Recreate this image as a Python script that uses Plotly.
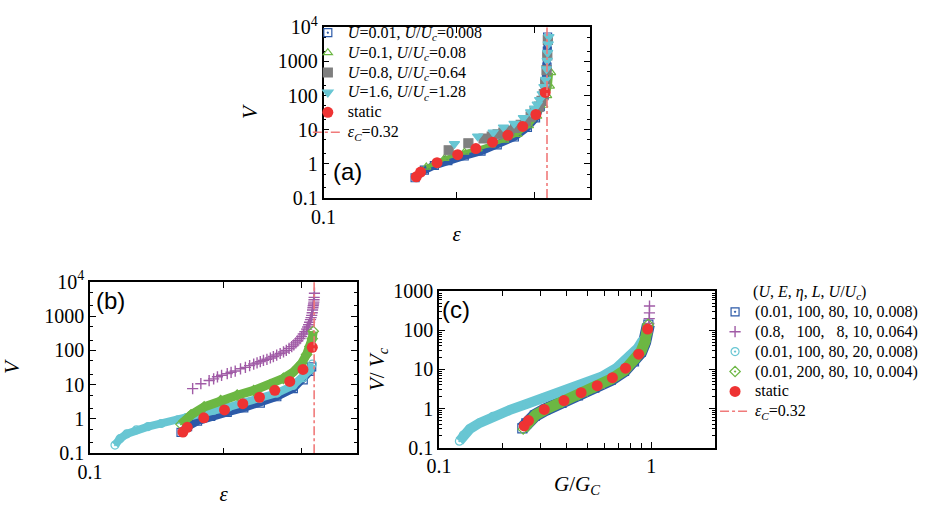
import plotly.graph_objects as go

# ---------------- data: panel (a) ----------------
a_eps_u001 = [0.161, 0.169, 0.178, 0.191, 0.208, 0.227, 0.247, 0.270, 0.289, 0.3015, 0.309, 0.315, 0.3176, 0.320, 0.3205, 0.321]
a_V_u001 = [0.39, 0.65, 0.89, 1.23, 1.69, 2.34, 3.6, 6.1, 11.7, 22, 47, 100, 234, 685, 2000, 5200]

a_eps_u01 = [0.1707, 0.1782, 0.1877, 0.1976, 0.2082, 0.2230, 0.2389, 0.2560, 0.2743, 0.2913, 0.3042, 0.3139, 0.3203, 0.3249, 0.327]
a_V_u01 = [0.80, 0.99, 1.43, 1.77, 2.19, 2.72, 3.59, 4.96, 7.3, 13, 24.7, 52, 100, 189, 470]

a_eps_u08 = [0.1918, 0.2125, 0.2300, 0.240, 0.2474, 0.255, 0.2628, 0.271, 0.2791, 0.2865, 0.2939, 0.300, 0.3069, 0.311, 0.3148, 0.317, 0.3192, 0.3205, 0.3214]
a_V_u08 = [2.49, 3.99, 5.5, 6.3, 7.3, 8.2, 9.4, 11.2, 13.9, 18, 24, 33, 47, 70, 111, 230, 553, 1500, 4300]

a_eps_u16 = [0.1976, 0.2230, 0.2418, 0.2551, 0.2696, 0.2830, 0.2939, 0.300, 0.3042, 0.308, 0.3121, 0.315, 0.3176, 0.319, 0.3203, 0.321, 0.322, 0.3232]
a_V_u16 = [3.83, 6.4, 8.3, 11.7, 15.1, 22, 32.7, 42, 55, 75, 111, 180, 291, 600, 1050, 1800, 3200, 5250]

static_eps = [0.162, 0.1657, 0.1805, 0.201, 0.221, 0.241, 0.261, 0.282, 0.302, 0.317]
static_V = [0.415, 0.57, 1.08, 1.84, 2.8, 4.3, 6.85, 12.4, 27.8, 123]

eps_c = 0.32
eps_line_V = [0.1, 10000]

# ---------------- data: panel (b) ----------------
b_eps_blue = [0.1604, 0.166, 0.1748, 0.1872, 0.2039, 0.2222, 0.2421, 0.2637, 0.2873, 0.3024, 0.3131, 0.316]
b_V_blue = [0.41, 0.60, 0.86, 1.19, 1.56, 2.11, 2.9, 4.45, 7.7, 13.8, 24.5, 33]

b_eps_purple = [0.1704, 0.1778, 0.1856, 0.190, 0.1938, 0.198, 0.2039, 0.208, 0.2125, 0.2184, 0.224, 0.229, 0.2339, 0.238, 0.242, 0.246, 0.2505, 0.255, 0.259, 0.2635, 0.2683, 0.273, 0.277, 0.281, 0.2849, 0.288, 0.291, 0.294, 0.2973, 0.300, 0.3025, 0.305, 0.3077, 0.3095, 0.311, 0.3125, 0.314, 0.315, 0.316, 0.3168, 0.3174, 0.318, 0.3185, 0.319, 0.3195, 0.3198, 0.320, 0.3205]
b_V_purple = [7.7, 10.7, 13.2, 14.8, 17, 18.8, 21, 23, 25, 29, 32, 36, 40, 43, 47, 51, 55, 60, 66, 73, 81, 90, 100, 114, 129, 145, 165, 190, 220, 255, 300, 350, 417, 480, 560, 660, 790, 900, 1050, 1250, 1500, 1750, 2000, 2250, 2550, 3000, 3500, 4640]

b_eps_cyan = [0.1139, 0.1169, 0.121, 0.1273, 0.1352, 0.1448, 0.1578, 0.165, 0.180, 0.190, 0.205, 0.222, 0.242, 0.264, 0.287, 0.302, 0.313, 0.317]
b_V_cyan = [0.174, 0.267, 0.367, 0.484, 0.60, 0.74, 0.95, 1.1, 1.4, 1.8, 2.2, 3.0, 4.0, 5.7, 9.5, 16, 27, 40]

b_eps_green = [0.1604, 0.169, 0.1809, 0.1971, 0.2147, 0.2339, 0.2548, 0.2729, 0.2873, 0.2999, 0.3077, 0.3131, 0.3169, 0.3185]
b_V_green = [0.70, 1.32, 2.25, 3.44, 4.95, 6.8, 10, 15.3, 23.4, 41.7, 76, 129, 220, 360]

# ---------------- data: panel (c) ----------------
c_G_blue = [0.247, 0.258, 0.283, 0.316, 0.378, 0.452, 0.540, 0.646, 0.745, 0.830, 0.893, 0.932, 0.955, 0.97]
c_V_blue = [0.31, 0.42, 0.66, 0.92, 1.40, 2.15, 3.4, 5.5, 9.2, 16, 28, 50, 80, 140]

c_G_purple = [0.26, 0.32, 0.40, 0.50, 0.60, 0.70, 0.80, 0.88, 0.93, 0.96, 0.975, 0.979, 0.981, 0.982]
c_V_purple = [0.45, 0.95, 1.6, 2.8, 4.4, 7, 12.5, 24, 45, 90, 150, 200, 280, 420]

c_G_cyan = [0.1248, 0.1302, 0.1398, 0.1557, 0.1796, 0.2147, 0.2566, 0.3068, 0.380, 0.471, 0.583, 0.685, 0.790, 0.864, 0.912]
c_V_cyan = [0.146, 0.21, 0.30, 0.43, 0.63, 0.91, 1.28, 1.82, 2.7, 4.07, 6.5, 10.8, 20, 35, 56]

c_G_green = [0.2494, 0.2612, 0.2856, 0.318, 0.380, 0.4544, 0.543, 0.649, 0.749, 0.834, 0.896, 0.934, 0.955, 0.968]
c_V_green = [0.30, 0.43, 0.69, 0.95, 1.46, 2.24, 3.57, 5.7, 9.5, 16.6, 29, 51, 81, 143]

c_G_static = [0.2521, 0.2641, 0.3134, 0.3882, 0.4675, 0.5568, 0.6564, 0.757, 0.873, 0.962]
c_V_static = [0.357, 0.49, 0.946, 1.6, 2.55, 3.85, 6.15, 10.8, 24.5, 108]

# ---------------- labels ----------------
legend_a_names = [
    "<i>U</i>=0.01, <i>U</i>/<i>U<sub>c</sub></i>=0.008",
    "<i>U</i>=0.1, <i>U</i>/<i>U<sub>c</sub></i>=0.08",
    "<i>U</i>=0.8, <i>U</i>/<i>U<sub>c</sub></i>=0.64",
    "<i>U</i>=1.6, <i>U</i>/<i>U<sub>c</sub></i>=1.28",
]
legend_b_names = [
    "(0.01, 100, 80, 10, 0.008)",
    "(0.8,\u00a0\u00a0 100,\u00a0\u00a0 8, 10, 0.064)",
    "(0.01, 100, 80, 20, 0.008)",
    "(0.01, 200, 80, 10, 0.004)",
]
static_name = "static"
epsc_name = "<i>ε<sub>C</sub></i>=0.32"
legend_b_title = "\u00a0" * 9 + "(<i>U</i>, <i>E</i>, <i>η</i>, <i>L</i>, <i>U</i>/<i>U<sub>c</sub></i>)"

BLUE = "#2c5aa8"
GREEN = "#6cb743"
GRAY = "#7f7f7f"
CYAN = "#68c6d3"
RED = "#ee3333"
PURPLE = "#a05ba6"
PINK = "#f07a7a"
SERIF = "Liberation Serif"
SANS = "Liberation Sans"


def big(s):
    # legend text drawn a little larger than the legend's nominal font (keeps rows compact)
    return '<span style="font-size:16px">' + s + "</span>"


fig = go.Figure()


def band(x, y, xa, ya, color, symbol, size, lw, name, legend, show, msym_line=1.2, line=True):
    marker = dict(symbol=symbol, size=size, color=color, line=dict(color=color, width=msym_line))
    if line:
        # dense band drawn as a thick line under the markers
        fig.add_trace(go.Scatter(x=x, y=y, mode="lines", xaxis=xa, yaxis=ya,
                                 line=dict(color=color, width=lw), showlegend=False,
                                 hoverinfo="skip"))
    fig.add_trace(go.Scatter(x=x, y=y, mode="markers", xaxis=xa, yaxis=ya, marker=marker,
                             name=big(name), legend=legend, showlegend=show))


# panel (a)
band(a_eps_u001, a_V_u001, "x", "y", BLUE, "square-open-dot", 8, 8, legend_a_names[0], "legend", True)
band(a_eps_u01, a_V_u01, "x", "y", GREEN, "triangle-up-open", 8, 4, legend_a_names[1], "legend", True)
band(a_eps_u08, a_V_u08, "x", "y", GRAY, "square", 9, 0, legend_a_names[2], "legend", True, line=False)
band(a_eps_u16, a_V_u16, "x", "y", CYAN, "triangle-down", 9, 0, legend_a_names[3], "legend", True, line=False)
fig.add_trace(go.Scatter(x=static_eps, y=static_V, mode="markers", xaxis="x", yaxis="y",
                         marker=dict(symbol="circle", size=11, color=RED), name=big(static_name),
                         legend="legend"))
fig.add_trace(go.Scatter(x=[eps_c, eps_c], y=eps_line_V, mode="lines", xaxis="x", yaxis="y",
                         line=dict(color=PINK, width=1.6, dash="dashdot"), name=big(epsc_name),
                         legend="legend"))

# panel (b)
band(b_eps_blue, b_V_blue, "x2", "y2", BLUE, "square-open-dot", 8, 8, legend_b_names[0], "legend2", True)
band(b_eps_purple, b_V_purple, "x2", "y2", PURPLE, "cross-thin", 8, 0, legend_b_names[1], "legend2", True, msym_line=1.4, line=False)
band(b_eps_cyan, b_V_cyan, "x2", "y2", CYAN, "circle-open-dot", 8, 8, legend_b_names[2], "legend2", True)
band(b_eps_green, b_V_green, "x2", "y2", GREEN, "diamond-open-dot", 8, 9, legend_b_names[3], "legend2", True)
fig.add_trace(go.Scatter(x=static_eps, y=static_V, mode="markers", xaxis="x2", yaxis="y2",
                         marker=dict(symbol="circle", size=11, color=RED), name=big(static_name),
                         legend="legend2"))
fig.add_trace(go.Scatter(x=[eps_c, eps_c], y=eps_line_V, mode="lines", xaxis="x2", yaxis="y2",
                         line=dict(color=PINK, width=1.6, dash="dashdot"), name=big(epsc_name),
                         legend="legend2"))

# panel (c)
band(c_G_blue, c_V_blue, "x3", "y3", BLUE, "square-open-dot", 9, 13, legend_b_names[0], "legend2", False)
band(c_G_purple, c_V_purple, "x3", "y3", PURPLE, "cross-thin", 8, 0, legend_b_names[1], "legend2", False, msym_line=1.4, line=False)
band(c_G_cyan, c_V_cyan, "x3", "y3", CYAN, "circle-open-dot", 8, 10, legend_b_names[2], "legend2", False)
band(c_G_green, c_V_green, "x3", "y3", GREEN, "diamond-open-dot", 8, 11, legend_b_names[3], "legend2", False)
fig.add_trace(go.Scatter(x=c_G_static, y=c_V_static, mode="markers", xaxis="x3", yaxis="y3",
                         marker=dict(symbol="circle", size=11, color=RED), name=static_name,
                         legend="legend2", showlegend=False))

W, H = 931, 511


def px_x(a, b):
    return [a / W, b / W]


def px_y(top, bottom):
    return [1 - bottom / H, 1 - top / H]


def minor_vals(lo_exp, hi_exp, mults):
    return [m * 10 ** e for e in range(lo_exp, hi_exp) for m in mults]


tickfont = dict(family=SERIF, size=20, color="black")
titlefont = dict(family=SERIF, size=21, color="black")
common = dict(type="log", showline=True, linecolor="black", linewidth=1.5, mirror="ticks",
              ticks="inside", ticklen=6, tickwidth=1, tickcolor="black", showgrid=False,
              zeroline=False, tickfont=tickfont)

yv = [0.1, 1, 10, 100, 1000, 10000]
yt = ["0.1", "1", "10", "100", "1000", "10<sup>4</sup>"]
ymin = dict(tickmode="array", tickvals=minor_vals(-1, 4, [2, 5]), ticks="inside", ticklen=3,
            tickcolor="black", showgrid=False)

xeps = dict(range=[-1, -0.398], tickmode="array", tickvals=[0.1, 0.2, 0.3], ticktext=["0.1", "", ""])

legfont = dict(family=SERIF, size=13, color="black")

fig.update_layout(
    width=W, height=H, margin=dict(l=0, r=0, t=0, b=0),
    paper_bgcolor="white", plot_bgcolor="white",
    font=dict(family=SERIF, color="black"),
    xaxis=dict(**common, **xeps, domain=px_x(315, 585), anchor="y",
               title=dict(text="<i>ε</i>", font=titlefont, standoff=0)),
    yaxis=dict(**common, range=[-1, 4], tickvals=yv, ticktext=yt, minor=ymin,
               domain=px_y(15, 194), anchor="x",
               title=dict(text="<i>V</i>", font=titlefont, standoff=14)),
    xaxis2=dict(**common, **xeps, domain=px_x(78, 349), anchor="y2",
                title=dict(text="<i>ε</i>", font=titlefont, standoff=4)),
    yaxis2=dict(**common, range=[-1, 4], tickvals=yv, ticktext=yt, minor=ymin,
                domain=px_y(282, 462), anchor="x2",
                title=dict(text="<i>V</i>", font=titlefont, standoff=19)),
    xaxis3=dict(**common, range=[-1, 0.301], tickmode="array", tickvals=[0.1, 1], ticktext=["0.1", "1"],
                minor=dict(tickmode="array", tickvals=[0.2, 0.3, 0.4, 0.5, 0.6, 0.7, 0.8, 0.9, 2],
                           ticks="inside", ticklen=5, tickcolor="black", showgrid=False),
                domain=px_x(432, 712), anchor="y3",
                title=dict(text="<i>G</i>/<i>G<sub>C</sub></i>", font=titlefont, standoff=0)),
    yaxis3=dict(**common, range=[-1, 3], tickvals=yv[:5], ticktext=yt[:5],
                minor=dict(tickmode="array", tickvals=minor_vals(-1, 3, [2, 3, 4, 5, 6, 7, 8, 9]),
                           ticks="inside", ticklen=3, tickcolor="black", showgrid=False),
                domain=px_y(292, 456), anchor="x3",
                title=dict(text="<i>V</i>/ <i>V<sub>c</sub></i>", font=titlefont, standoff=3)),
    legend=dict(x=299 / W, y=1 - 5 / H, xanchor="left", yanchor="top", bgcolor="rgba(0,0,0,0)",
                font=legfont, tracegroupgap=0, itemwidth=30, borderwidth=0),
    legend2=dict(x=712 / W, y=1 - 276 / H, xanchor="left", yanchor="top", bgcolor="rgba(0,0,0,0)",
                 font=legfont, tracegroupgap=0, itemwidth=30, borderwidth=0,
                 title=dict(text=legend_b_title, font=dict(family=SERIF, size=16, color="black"))),
    annotations=[
        dict(text="(a)", x=339 / W, y=1 - 166 / H, xref="paper", yref="paper", showarrow=False,
             xanchor="center", yanchor="middle", font=dict(family=SANS, size=24, color="black")),
        dict(text="(b)", x=99 / W, y=1 - 302 / H, xref="paper", yref="paper", showarrow=False,
             xanchor="center", yanchor="middle", font=dict(family=SANS, size=24, color="black")),
        dict(text="(c)", x=449 / W, y=1 - 311 / H, xref="paper", yref="paper", showarrow=False,
             xanchor="center", yanchor="middle", font=dict(family=SANS, size=24, color="black")),
    ],
)

fig.write_html("out.html")
